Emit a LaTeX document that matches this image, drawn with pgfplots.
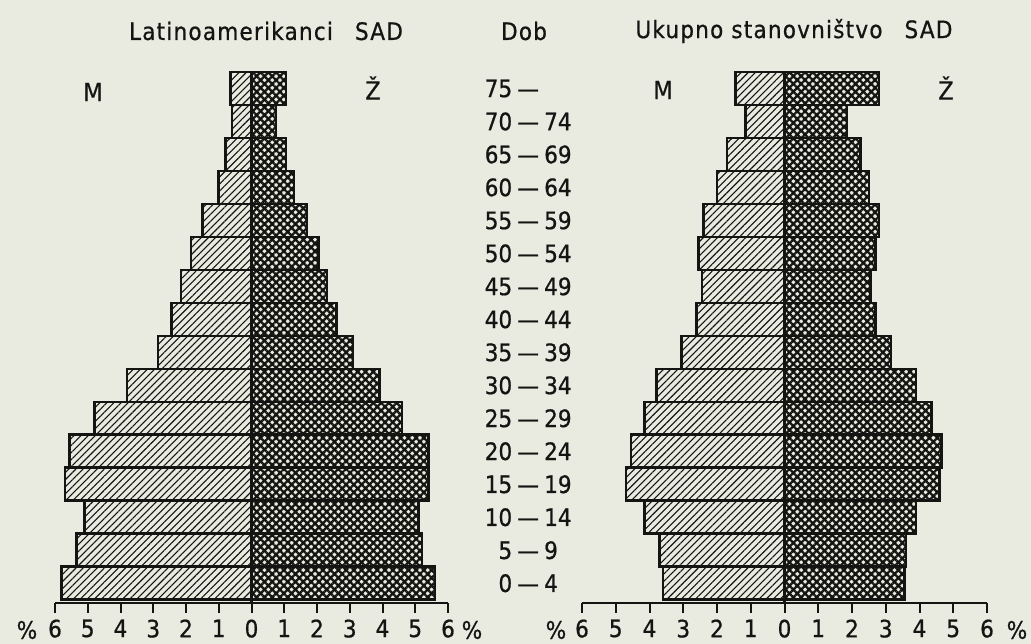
\documentclass[border=0pt]{standalone}
\usepackage{fontspec}
\setmainfont{DejaVu Sans Condensed}[FakeBold=0.7]
\newfontfamily\titlefont{DejaVu Sans Condensed}[FakeBold=0.7, LetterSpace=5]
\usepackage{pgfplots}
\pgfplotsset{compat=1.18}
\usepackage{pgfplotstable}
\usetikzlibrary{patterns.meta}
\definecolor{paper}{RGB}{233,234,224}
\definecolor{ink}{RGB}{20,20,18}

% k: 0 = 0-4 ... 15 = 75+ ; M = men (%), F = women (%)
\pgfplotstableread{
k M F
0 5.8 5.6
1 5.35 5.2
2 5.1 5.1
3 5.7 5.4
4 5.55 5.4
5 4.8 4.6
6 3.8 3.9
7 2.85 3.1
8 2.45 2.6
9 2.15 2.3
10 1.85 2.05
11 1.5 1.7
12 1.0 1.3
13 0.8 1.05
14 0.6 0.75
15 0.65 1.05
}\latino

\pgfplotstableread{
k M F
0 3.6 3.55
1 3.7 3.6
2 4.15 3.9
3 4.7 4.6
4 4.55 4.65
5 4.15 4.35
6 3.8 3.9
7 3.05 3.15
8 2.6 2.7
9 2.45 2.55
10 2.55 2.7
11 2.4 2.8
12 2.0 2.5
13 1.7 2.25
14 1.15 1.85
15 1.45 2.8
}\ukupno

\newcommand{\agelab}[2]{\makebox[28pt][r]{#1}\makebox[32pt][c]{—}\makebox[34pt][l]{#2}}

\pgfplotsset{
  pyr/.style={
    scale only axis, height=531pt,
    xmin=-6, xmax=6, ymin=-0.6, ymax=15.5,
    axis on top,
    axis x line*=bottom, axis y line*=right,
    y axis line style={draw=none},
    x axis line style={line width=2.4pt, ink},
    xtick={-6,-5,-4,-3,-2,-1,0,1,2,3,4,5,6},
    xticklabels={6,5,4,3,2,1,0,1,2,3,4,5,6},
    tick align=outside,
    major tick length=10pt,
    xtick style={line width=2pt, ink},
    ytick style={draw=none},
    ytick={0,...,15},
    xticklabel style={font=\fontsize{24}{28}\selectfont, text=ink, yshift=-3pt},
    extra x ticks={0},
    extra x tick labels={},
    extra x tick style={grid=major, major grid style={line width=3pt, ink}},
    clip=false,
  },
  male/.style={xbar, bar width=1, bar shift=0pt, fill=paper, draw=ink, line width=2.6pt,
    postaction={pattern color=ink, pattern={Lines[angle=45,distance=5pt,line width=1.1pt]}}},
  female/.style={xbar, bar width=1, bar shift=0pt, fill=paper, draw=ink, line width=2.6pt,
    postaction={pattern color=ink, pattern={Hatch[angle=45,distance=5.5pt,line width=2.3pt]}}},
}

\begin{document}
\begin{tikzpicture}
\fill[paper] (0pt,0pt) rectangle (1031pt,644pt);
\path[use as bounding box] (0pt,0pt) rectangle (1031pt,644pt);

% Left pyramid: Latinoamerikanci SAD
\begin{axis}[pyr, width=393pt, at={(55pt,41pt)}, anchor=south west,
  yticklabel pos=right,
  yticklabels={\agelab{0}{4},\agelab{5}{9},\agelab{10}{14},\agelab{15}{19},\agelab{20}{24},\agelab{25}{29},\agelab{30}{34},\agelab{35}{39},\agelab{40}{44},\agelab{45}{49},\agelab{50}{54},\agelab{55}{59},\agelab{60}{64},\agelab{65}{69},\agelab{70}{74},\agelab{75}{}},
  yticklabel style={anchor=west, inner sep=0pt, xshift=26pt, font=\fontsize{24}{28}\selectfont, text=ink},
]
\addplot[male] table[x expr=-\thisrow{M}, y=k] {\latino};
\addplot[female] table[x=F, y=k] {\latino};
\end{axis}

% Right pyramid: Ukupno stanovnistvo SAD
\begin{axis}[pyr, width=405pt, at={(582pt,41pt)}, anchor=south west,
  yticklabels={},
]
\addplot[male] table[x expr=-\thisrow{M}, y=k] {\ukupno};
\addplot[female] table[x=F, y=k] {\ukupno};
\end{axis}

% titles
\node[font=\titlefont\fontsize{24}{28}\selectfont, text=ink] at (266pt,613pt) {Latinoamerikanci\hspace{22pt}SAD};
\node[font=\titlefont\fontsize{24}{28}\selectfont, text=ink] at (524pt,613pt) {Dob};
\node[font=\titlefont\fontsize{24}{28}\selectfont, text=ink] at (794pt,613pt) {Ukupno stanovništvo\hspace{22pt}SAD};
% sex labels
\node[font=\fontsize{25}{28}\selectfont, text=ink] at (93pt,552pt) {M};
\node[font=\fontsize{25}{28}\selectfont, text=ink] at (373pt,556pt) {Ž};
\node[font=\fontsize{25}{28}\selectfont, text=ink] at (663pt,554pt) {M};
\node[font=\fontsize{25}{28}\selectfont, text=ink] at (946pt,556pt) {Ž};
% percent signs
\node[font=\fontsize{24}{28}\selectfont, text=ink, inner sep=0pt] at (27pt,14pt) {\%};
\node[font=\fontsize{24}{28}\selectfont, text=ink, inner sep=0pt] at (472pt,14pt) {\%};
\node[font=\fontsize{24}{28}\selectfont, text=ink, inner sep=0pt] at (556pt,14pt) {\%};
\node[font=\fontsize{24}{28}\selectfont, text=ink, inner sep=0pt] at (1017pt,14pt) {\%};
\end{tikzpicture}
\end{document}
